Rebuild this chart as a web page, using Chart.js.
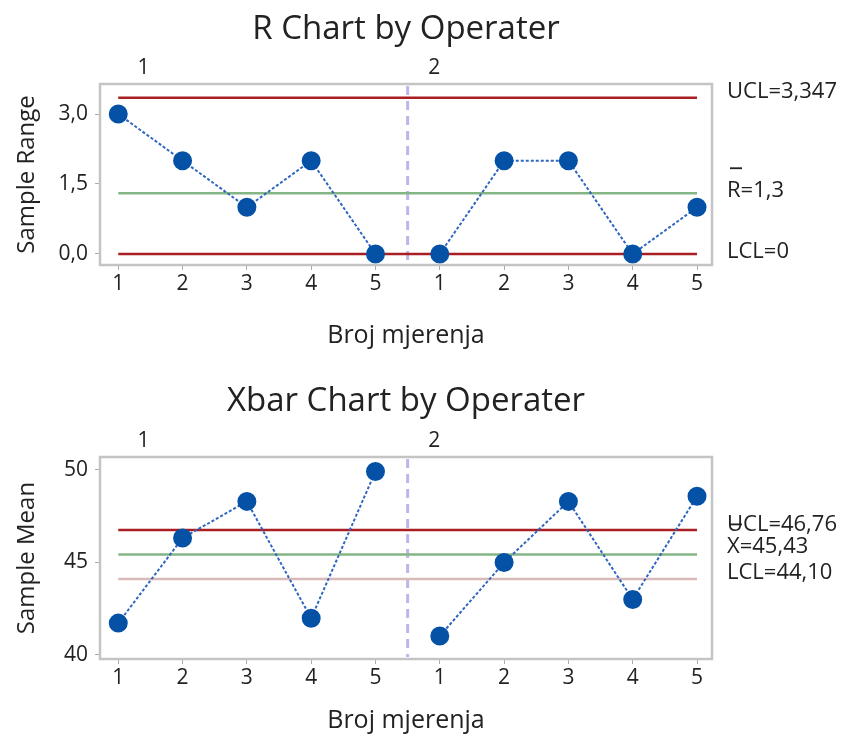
<!DOCTYPE html>
<html lang="hr">
<head>
<meta charset="UTF-8">
<title>R i Xbar karta po operateru</title>
<script src="https://cdn.jsdelivr.net/npm/chart.js"></script>
<style>
  html, body { margin: 0; padding: 0; background: #fff; }
  canvas { display: block; }
</style>
</head>
<body>
<canvas id="rChart" width="848" height="371"></canvas>
<canvas id="xChart" width="848" height="372"></canvas>
<script>
// podaci
const operators = ['1', '2'];
const samples = [1, 2, 3, 4, 5];
const rOp1 = [3, 2, 1, 2, 0];
const rOp2 = [0, 2, 2, 0, 1];
const xbarOp1 = [41.72, 46.32, 48.3, 41.98, 49.92];
const xbarOp2 = [41.02, 45.0, 48.3, 43.0, 48.58];
const rTicks = [0, 1.5, 3];
const xbarTicks = [40, 45, 50];
const rUCL = 3.347, rCL = 1.3, rLCL = 0;
const xUCL = 46.76, xCL = 45.43, xLCL = 44.10;
const rLimitLabels = ['UCL=3,347', 'R=1,3', 'LCL=0'];
const xLimitLabels = ['UCL=46,76', 'X=45,43', 'LCL=44,10'];

const FONT = "'Open Sans', 'Noto Sans', sans-serif";
const TXT = '#222';

// x pozicije: operater * 5 + uzorak
const xPos = operators.flatMap((op, i) => samples.map(s => i * samples.length + s));
const xTickLabels = operators.flatMap(() => samples.map(String));
const split = samples.length + 0.5;

const decor = {
  id: 'decor',
  beforeDatasetsDraw(chart) {
    const { ctx, chartArea: a, scales: { x } } = chart;
    const dx = x.getPixelForValue(split);
    ctx.save();
    ctx.strokeStyle = '#bdb6ec';
    ctx.lineWidth = 3;
    ctx.setLineDash([9, 6]);
    ctx.beginPath();
    ctx.moveTo(dx, a.top + 2);
    ctx.lineTo(dx, a.bottom - 2);
    ctx.stroke();
    ctx.restore();
  },
  afterDraw(chart, args, opts) {
    const { ctx, chartArea: a, scales: { x, y } } = chart;
    ctx.save();
    ctx.strokeStyle = '#c4c4c4';
    ctx.lineWidth = 2.5;
    ctx.strokeRect(a.left, a.top, a.right - a.left, a.bottom - a.top);

    ctx.fillStyle = TXT;
    ctx.textBaseline = 'middle';
    ctx.textAlign = 'left';
    ctx.font = '21px ' + FONT;
    operators.forEach((op, i) => {
      ctx.fillText(op, x.getPixelForValue(opts.groupAt[i]), a.top - opts.groupDy);
    });

    ctx.font = '22px ' + FONT;
    opts.limits.forEach((lim, i) => {
      const ty = y.getPixelForValue(lim) + opts.labelDy[i];
      ctx.fillText(opts.labels[i], a.right + 15, ty);
      if (i === 1) {
        ctx.fillRect(a.right + 18, ty - 23, 12, 1.8);
      }
    });
    ctx.restore();
  }
};

function limitLine(v, color) {
  return {
    data: [{ x: xPos[0], y: v }, { x: xPos[xPos.length - 1], y: v }],
    borderColor: color,
    borderWidth: 2.5,
    pointRadius: 0,
    order: 2
  };
}

function groupSeries(vals, offset) {
  return {
    data: vals.map((v, i) => ({ x: xPos[offset + i], y: v })),
    borderColor: '#2f66c0',
    borderWidth: 2,
    borderDash: [3, 2],
    pointRadius: 8.5,
    pointBackgroundColor: '#0451a6',
    pointBorderColor: '#0451a6',
    order: 1
  };
}

function makeChart(id, o) {
  return new Chart(document.getElementById(id), {
    type: 'line',
    data: {
      datasets: [
        groupSeries(o.g1, 0),
        groupSeries(o.g2, samples.length),
        limitLine(o.limits[0], '#a91e22'),
        limitLine(o.limits[1], '#84b584'),
        limitLine(o.limits[2], o.lclColor)
      ]
    },
    options: {
      responsive: false,
      animation: false,
      clip: false,
      layout: { padding: { left: 0, right: 136, top: 0, bottom: 0 } },
      plugins: {
        legend: { display: false },
        tooltip: { enabled: false },
        title: {
          display: true,
          text: o.title,
          fullSize: false,
          color: TXT,
          font: { family: FONT, size: 33, weight: '500' },
          padding: { top: o.titleTop, bottom: o.titleBottom }
        },
        decor: {
          limits: o.limits,
          labels: o.labels,
          labelDy: o.labelDy,
          groupAt: [1.3, 5.82],
          groupDy: 16
        }
      },
      scales: {
        x: {
          type: 'linear',
          min: 0.716,
          max: 10.233,
          afterBuildTicks: s => { s.ticks = xPos.map(v => ({ value: v })); },
          afterFit: s => { s.height = o.xHeight; },
          ticks: {
            autoSkip: false,
            maxRotation: 0,
            padding: 1,
            color: TXT,
            font: { family: FONT, size: 21 },
            callback: (v, i) => xTickLabels[i]
          },
          grid: { drawOnChartArea: false, drawTicks: true, tickLength: 5, color: '#aaa' },
          border: { display: false },
          title: {
            display: true,
            text: 'Broj mjerenja',
            color: TXT,
            font: { family: FONT, size: 25 },
            padding: { top: 0, bottom: o.xTitlePad }
          }
        },
        y: {
          min: o.yMin,
          max: o.yMax,
          afterBuildTicks: s => { s.ticks = o.yTicks.map(v => ({ value: v })); },
          afterFit: s => { s.width = 100; },
          ticks: {
            padding: 7,
            color: TXT,
            font: { family: FONT, size: 21 },
            callback: o.fmt
          },
          grid: { drawOnChartArea: false, drawTicks: true, tickLength: 5, color: '#aaa' },
          border: { display: false },
          title: {
            display: true,
            text: o.yTitle,
            color: TXT,
            font: { family: FONT, size: 24 },
            padding: { top: 13, bottom: 0 }
          }
        }
      }
    },
    plugins: [decor]
  });
}

makeChart('rChart', {
  title: 'R Chart by Operater',
  yTitle: 'Sample Range',
  g1: rOp1, g2: rOp2,
  limits: [rUCL, rCL, rLCL],
  labels: rLimitLabels,
  labelDy: [-6, -3, -2],
  lclColor: '#a91e22',
  yMin: -0.236, yMax: 3.643,
  yTicks: rTicks,
  fmt: v => v.toFixed(1).replace('.', ','),
  titleTop: 10.2, titleBottom: 34.2,
  xHeight: 106, xTitlePad: 20
});

makeChart('xChart', {
  title: 'Xbar Chart by Operater',
  yTitle: 'Sample Mean',
  g1: xbarOp1, g2: xbarOp2,
  limits: [xUCL, xCL, xLCL],
  labels: xLimitLabels,
  labelDy: [-5, -8, -6],
  lclColor: '#d9b9b9',
  yMin: 39.78, yMax: 50.7,
  yTicks: xbarTicks,
  fmt: v => String(v),
  titleTop: 11.2, titleBottom: 35.2,
  xHeight: 84, xTitlePad: 7
});
</script>
</body>
</html>
